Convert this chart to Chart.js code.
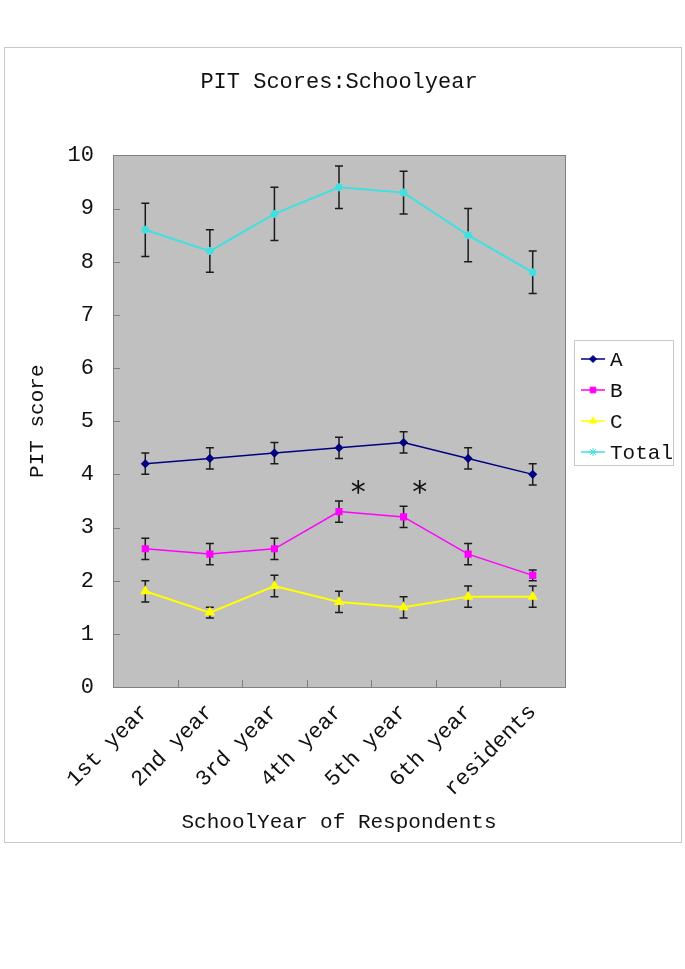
<!DOCTYPE html>
<html>
<head>
<meta charset="utf-8">
<script src="https://cdn.jsdelivr.net/npm/chart.js@4"></script>
<style>
body { margin: 0; background: #fff; }
#frame { position: absolute; left: 4px; top: 47px; width: 676px; height: 794px; border: 1px solid #c8c8c8; }
canvas { display: block; }
</style>
</head>
<body>
<div id="frame"><canvas id="pit" width="676" height="794"></canvas></div>
<script>
const years = ["1st year", "2nd year", "3rd year", "4th year", "5th year", "6th year", "residents"];

const scoreA = [4.2, 4.3, 4.4, 4.5, 4.6, 4.3, 4.0];
const errA = [0.2, 0.2, 0.2, 0.2, 0.2, 0.2, 0.2];
const scoreB = [2.6, 2.5, 2.6, 3.3, 3.2, 2.5, 2.1];
const errB = [0.2, 0.2, 0.2, 0.2, 0.2, 0.2, 0.1];
const scoreC = [1.8, 1.4, 1.9, 1.6, 1.5, 1.7, 1.7];
const errC = [0.2, 0.1, 0.2, 0.2, 0.2, 0.2, 0.2];
const scoreTotal = [8.6, 8.2, 8.9, 9.4, 9.3, 8.5, 7.8];
const errTotal = [0.5, 0.4, 0.5, 0.4, 0.4, 0.5, 0.4];

const yTicks = [0, 1, 2, 3, 4, 5, 6, 7, 8, 9, 10];

// significance marks, placed in category units
const starPos = [3.3, 4.25];
const starLevel = [3.8, 3.8];

const FONT = "'Liberation Mono', 'DejaVu Sans Mono', monospace";
const INK = "#111";

const plotDecor = {
	id: "plotDecor",
	beforeDraw(chart) {
		const { ctx, chartArea: a } = chart;
		ctx.save();
		ctx.fillStyle = "#c0c0c0";
		ctx.fillRect(a.left, a.top, a.right - a.left, a.bottom - a.top);
		ctx.restore();
	},
	beforeDatasetsDraw(chart) {
		const { ctx, chartArea: a, scales } = chart;
		const x = scales.x, y = scales.y;
		ctx.save();
		// inside tick marks
		ctx.strokeStyle = "#808080";
		ctx.lineWidth = 1;
		ctx.beginPath();
		yTicks.forEach((t) => {
			const py = Math.round(y.getPixelForValue(t)) + 0.5;
			ctx.moveTo(a.left, py);
			ctx.lineTo(a.left + 7, py);
		});
		for (let i = 1; i < years.length; i++) {
			const px = Math.round(x.getPixelForValue(i - 0.5)) + 0.5;
			ctx.moveTo(px, a.bottom);
			ctx.lineTo(px, a.bottom - 7);
		}
		ctx.stroke();
		// error bars
		ctx.strokeStyle = "#1a1a1a";
		ctx.lineWidth = 1.5;
		chart.data.datasets.forEach((ds, i) => {
			const meta = chart.getDatasetMeta(i);
			meta.data.forEach((pt, j) => {
				const top = y.getPixelForValue(ds.data[j] + ds.errors[j]);
				const bot = y.getPixelForValue(ds.data[j] - ds.errors[j]);
				ctx.beginPath();
				ctx.moveTo(pt.x, top);
				ctx.lineTo(pt.x, bot);
				ctx.moveTo(pt.x - 4, top);
				ctx.lineTo(pt.x + 4, top);
				ctx.moveTo(pt.x - 4, bot);
				ctx.lineTo(pt.x + 4, bot);
				ctx.stroke();
			});
		});
		ctx.restore();
	},
	afterDraw(chart) {
		const { ctx, chartArea: a, scales } = chart;
		ctx.save();
		// plot border
		ctx.strokeStyle = "#808080";
		ctx.lineWidth = 1;
		ctx.strokeRect(Math.round(a.left) + 0.5, Math.round(a.top) + 0.5, Math.round(a.right - a.left), Math.round(a.bottom - a.top));
		// asterisks
		ctx.fillStyle = INK;
		ctx.font = "30px 'DejaVu Sans', sans-serif";
		ctx.textAlign = "center";
		ctx.textBaseline = "alphabetic";
		starPos.forEach((p, i) => {
			ctx.fillText("*", scales.x.getPixelForValue(p), scales.y.getPixelForValue(starLevel[i]) + 17);
		});
		// legend
		const lx = 569, ly = 292, lw = 99, lh = 125;
		ctx.strokeStyle = "#c8c8c8";
		ctx.strokeRect(lx + 0.5, ly + 0.5, lw, lh);
		ctx.font = "21px " + FONT;
		ctx.textAlign = "left";
		ctx.textBaseline = "middle";
		chart.data.datasets.forEach((ds, i) => {
			const ry = ly + 19 + i * 31;
			ctx.strokeStyle = ds.borderColor;
			ctx.lineWidth = 1.5;
			ctx.beginPath();
			ctx.moveTo(lx + 7, ry);
			ctx.lineTo(lx + 31, ry);
			ctx.stroke();
			if (Chart.helpers && Chart.helpers.drawPoint) {
				ctx.fillStyle = ds.pointBackgroundColor;
				ctx.strokeStyle = ds.pointBorderColor;
				ctx.lineWidth = 1;
				Chart.helpers.drawPoint(ctx, { pointStyle: ds.pointStyle, radius: ds.pointRadius, borderWidth: 1, rotation: 0 }, lx + 19, ry);
			}
			ctx.fillStyle = INK;
			ctx.fillText(ds.label, lx + 36, ry + 1);
		});
		ctx.restore();
	},
};

new Chart(document.getElementById("pit"), {
	type: "line",
	data: {
		labels: years,
		datasets: [
			{ label: "A", data: scoreA, errors: errA, borderColor: "#000080", pointBackgroundColor: "#000080", pointBorderColor: "#000080", pointStyle: "rectRot", pointRadius: 3.5, borderWidth: 1.5 },
			{ label: "B", data: scoreB, errors: errB, borderColor: "#ff00ff", pointBackgroundColor: "#ff00ff", pointBorderColor: "#ff00ff", pointStyle: "rect", pointRadius: 4, borderWidth: 1.5 },
			{ label: "C", data: scoreC, errors: errC, borderColor: "#ffff00", pointBackgroundColor: "#ffff00", pointBorderColor: "#ffff00", pointStyle: "triangle", pointRadius: 4, borderWidth: 2 },
			{ label: "Total", data: scoreTotal, errors: errTotal, borderColor: "#3ee0e0", pointBackgroundColor: "#3ee0e0", pointBorderColor: "#3ee0e0", pointStyle: "star", pointRadius: 4, borderWidth: 2 },
		],
	},
	options: {
		responsive: false,
		animation: false,
		devicePixelRatio: 1,
		layout: { padding: { left: 0, right: 116, top: 0, bottom: 0 } },
		plugins: {
			legend: { display: false },
			tooltip: { enabled: false },
			title: {
				display: true,
				fullSize: false,
				text: "PIT Scores:Schoolyear",
				color: INK,
				font: { family: FONT, size: 22, weight: "normal" },
				padding: { top: 21, bottom: 60 },
			},
		},
		scales: {
			x: {
				offset: true,
				grid: { display: false, drawTicks: false },
				border: { display: false },
				ticks: { color: INK, font: { family: FONT, size: 22 }, minRotation: 45, maxRotation: 45, padding: 12 },
				title: { display: true, text: "SchoolYear of Respondents", color: INK, font: { family: FONT, size: 21 }, padding: { top: 0, bottom: 7 } },
				afterFit(scale) { scale.height = 155; },
			},
			y: {
				min: yTicks[0],
				max: yTicks[yTicks.length - 1],
				grid: { display: false, drawTicks: false },
				border: { display: false },
				ticks: { stepSize: 1, color: INK, font: { family: FONT, size: 22 }, padding: 19 },
				title: { display: true, text: "PIT score", color: INK, font: { family: FONT, size: 21 }, padding: { top: 20, bottom: 0 } },
				afterFit(scale) { scale.width = 108; },
			},
		},
	},
	plugins: [plotDecor],
});
</script>
</body>
</html>
